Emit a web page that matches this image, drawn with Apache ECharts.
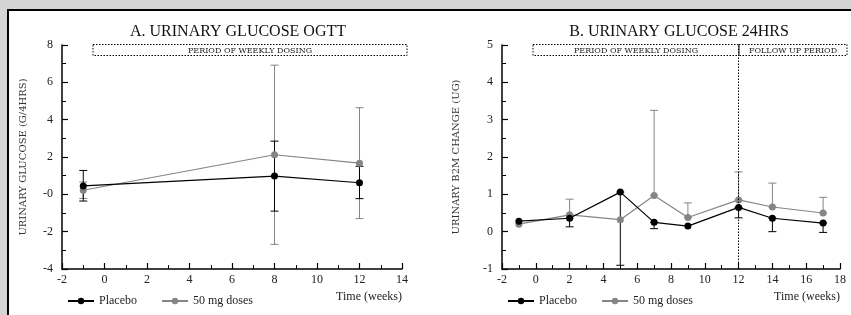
<!DOCTYPE html>
<html>
<head>
<meta charset="utf-8">
<script src="https://cdn.jsdelivr.net/npm/echarts@6/dist/echarts.min.js"></script>
<style>
  html, body { margin: 0; padding: 0; background: #d4d4d4; }
  #chart { width: 851px; height: 315px; }
</style>
</head>
<body>
<div id="chart"></div>
<script>
// A. urinary glucose OGTT
const weeksA = [-1, 8, 12]
const placeboA = [0.45, 0.98, 0.62]
const placeboAUp = [1.28, 2.85, 1.5]
const placeboALow = [-0.36, -0.9, -0.23]
const doseA = [0.22, 2.12, 1.67]
const doseAUp = [0.66, 6.92, 4.64]
const doseALow = [-0.22, -2.68, -1.3]

// B. urinary glucose 24hrs
const weeksB = [-1, 2, 5, 7, 9, 12, 14, 17]
const placeboB = [0.28, 0.36, 1.06, 0.25, 0.15, 0.65, 0.36, 0.23]
const placeboBLow = [null, 0.13, -0.9, 0.08, null, 0.37, 0.0, -0.02]
const doseB = [0.2, 0.45, 0.32, 0.97, 0.38, 0.85, 0.66, 0.5]
const doseBUp = [null, 0.87, null, 3.25, 0.77, 1.6, 1.3, 0.92]

const BLACK = '#000'
const GREY = '#858585'
const FONT = 'Liberation Serif'
const CAPS = 'DejaVu Serif'

function pairs(xs, ys) {
  return xs.map((x, i) => [x, ys[i]])
}

// one error bar per row: [x, low, high]
function errRows(xs, mean, up, low) {
  return xs.map((x, i) => [x,
    low && low[i] != null ? low[i] : mean[i],
    up && up[i] != null ? up[i] : mean[i]])
}

function errSeries(idx, rows, color) {
  return {
    type: 'custom',
    xAxisIndex: idx,
    yAxisIndex: idx,
    silent: true,
    z: 1,
    data: rows,
    renderItem(params, api) {
      const x = api.value(0)
      const lo = api.value(1)
      const hi = api.value(2)
      const pLo = api.coord([x, lo])
      const pHi = api.coord([x, hi])
      const style = { stroke: color, lineWidth: 1 }
      const kids = [{ type: 'line', shape: { x1: pLo[0], y1: pLo[1], x2: pHi[0], y2: pHi[1] }, style }]
      if (hi !== lo) {
        kids.push({ type: 'line', shape: { x1: pHi[0] - 4, y1: pHi[1], x2: pHi[0] + 4, y2: pHi[1] }, style })
        kids.push({ type: 'line', shape: { x1: pLo[0] - 4, y1: pLo[1], x2: pLo[0] + 4, y2: pLo[1] }, style })
      }
      return { type: 'group', children: kids }
    }
  }
}

function lineSeries(idx, name, data, color) {
  return {
    name,
    type: 'line',
    xAxisIndex: idx,
    yAxisIndex: idx,
    data,
    symbol: 'circle',
    symbolSize: 7,
    z: 3,
    lineStyle: { color, width: 1.2 },
    itemStyle: { color }
  }
}

const axisLine = { show: true, onZero: false, lineStyle: { color: BLACK, width: 1.5 } }
const axisTick = { inside: true, length: 6, lineStyle: { color: BLACK, width: 1.2 } }
const minorTick = { show: true, splitNumber: 2, length: 4, lineStyle: { color: BLACK, width: 1 } }
const axisLabel = { color: '#222', fontFamily: FONT, fontSize: 12 }

function xAxis(idx, max) {
  return {
    type: 'value', gridIndex: idx, min: -2, max, interval: 2,
    axisLine, axisTick, minorTick, splitLine: { show: false },
    axisLabel: Object.assign({ margin: 5 }, axisLabel)
  }
}

function yAxis(idx, min, max, interval, name, gap, fmt) {
  return {
    type: 'value', gridIndex: idx, min, max, interval,
    name, nameLocation: 'middle', nameGap: gap, nameRotate: 90,
    nameTextStyle: { fontFamily: CAPS, fontSize: 10, color: '#333' },
    axisLine, axisTick, minorTick, splitLine: { show: false },
    axisLabel: Object.assign({ margin: 9, formatter: fmt }, axisLabel)
  }
}

function periodBox(x1, x2, text) {
  return [
    { type: 'rect', shape: { x: x1, y: 44.5, width: x2 - x1, height: 11 },
      style: { fill: 'none', stroke: BLACK, lineWidth: 1, lineDash: [1.5, 1.5] } },
    { type: 'text', x: (x1 + x2) / 2, y: 50.5,
      style: { text, fill: '#222', font: '8px "' + CAPS + '"', align: 'center', verticalAlign: 'middle' } }
  ]
}

const titleStyle = { fontFamily: FONT, fontSize: 16, fontWeight: 'normal', color: '#111' }
const legendText = { fontFamily: FONT, fontSize: 12, color: '#222' }

const chart = echarts.init(document.getElementById('chart'))
chart.setOption({
  backgroundColor: '#d4d4d4',
  animation: false,
  title: [
    { text: 'A. URINARY GLUCOSE OGTT', left: 233, top: 19, textAlign: 'center', textStyle: titleStyle },
    { text: 'B. URINARY GLUCOSE 24HRS', left: 674, top: 19, textAlign: 'center', textStyle: titleStyle }
  ],
  legend: [
    { left: 62, top: 290, itemWidth: 26, itemHeight: 8, itemGap: 24,
      data: ['Placebo', '50 mg doses'], textStyle: legendText },
    { left: 502, top: 290, itemWidth: 26, itemHeight: 8, itemGap: 24,
      data: ['Placebo', '50 mg doses'], textStyle: legendText }
  ],
  graphic: [
    { type: 'rect', z: -10, shape: { x: 8, y: 10, width: 860, height: 320 },
      style: { fill: '#fff', stroke: BLACK, lineWidth: 2 } },
    ...periodBox(93, 407, 'PERIOD OF WEEKLY DOSING'),
    ...periodBox(533, 739, 'PERIOD OF WEEKLY DOSING'),
    ...periodBox(739, 847, 'FOLLOW UP PERIOD'),
    { type: 'text', x: 402, y: 297,
      style: { text: 'Time (weeks)', fill: '#222', font: '12px "' + FONT + '"', align: 'right', verticalAlign: 'middle' } },
    { type: 'text', x: 840, y: 297,
      style: { text: 'Time (weeks)', fill: '#222', font: '12px "' + FONT + '"', align: 'right', verticalAlign: 'middle' } }
  ],
  grid: [
    { left: 62, top: 45, width: 340, height: 224 },
    { left: 502, top: 45, width: 338, height: 224 }
  ],
  xAxis: [xAxis(0, 14), xAxis(1, 18)],
  yAxis: [
    yAxis(0, -4, 8, 2, 'URINARY GLUCOSE (G/4HRS)', 34, v => (v === 0 ? '-0' : v)),
    yAxis(1, -1, 5, 1, 'URINARY B2M CHANGE (UG)', 41)
  ],
  series: [
    errSeries(0, errRows(weeksA, doseA, doseAUp, doseALow), GREY),
    errSeries(0, errRows(weeksA, placeboA, placeboAUp, placeboALow), BLACK),
    lineSeries(0, '50 mg doses', pairs(weeksA, doseA), GREY),
    lineSeries(0, 'Placebo', pairs(weeksA, placeboA), BLACK),

    errSeries(1, errRows(weeksB, doseB, doseBUp, null), GREY),
    errSeries(1, errRows(weeksB, placeboB, null, placeboBLow), BLACK),
    Object.assign(lineSeries(1, '50 mg doses', pairs(weeksB, doseB), GREY), {
      markLine: {
        silent: true, symbol: 'none', label: { show: false },
        lineStyle: { color: BLACK, type: [1.5, 1.5], width: 1 },
        data: [{ xAxis: 12 }]
      }
    }),
    lineSeries(1, 'Placebo', pairs(weeksB, placeboB), BLACK)
  ]
})
</script>
</body>
</html>
